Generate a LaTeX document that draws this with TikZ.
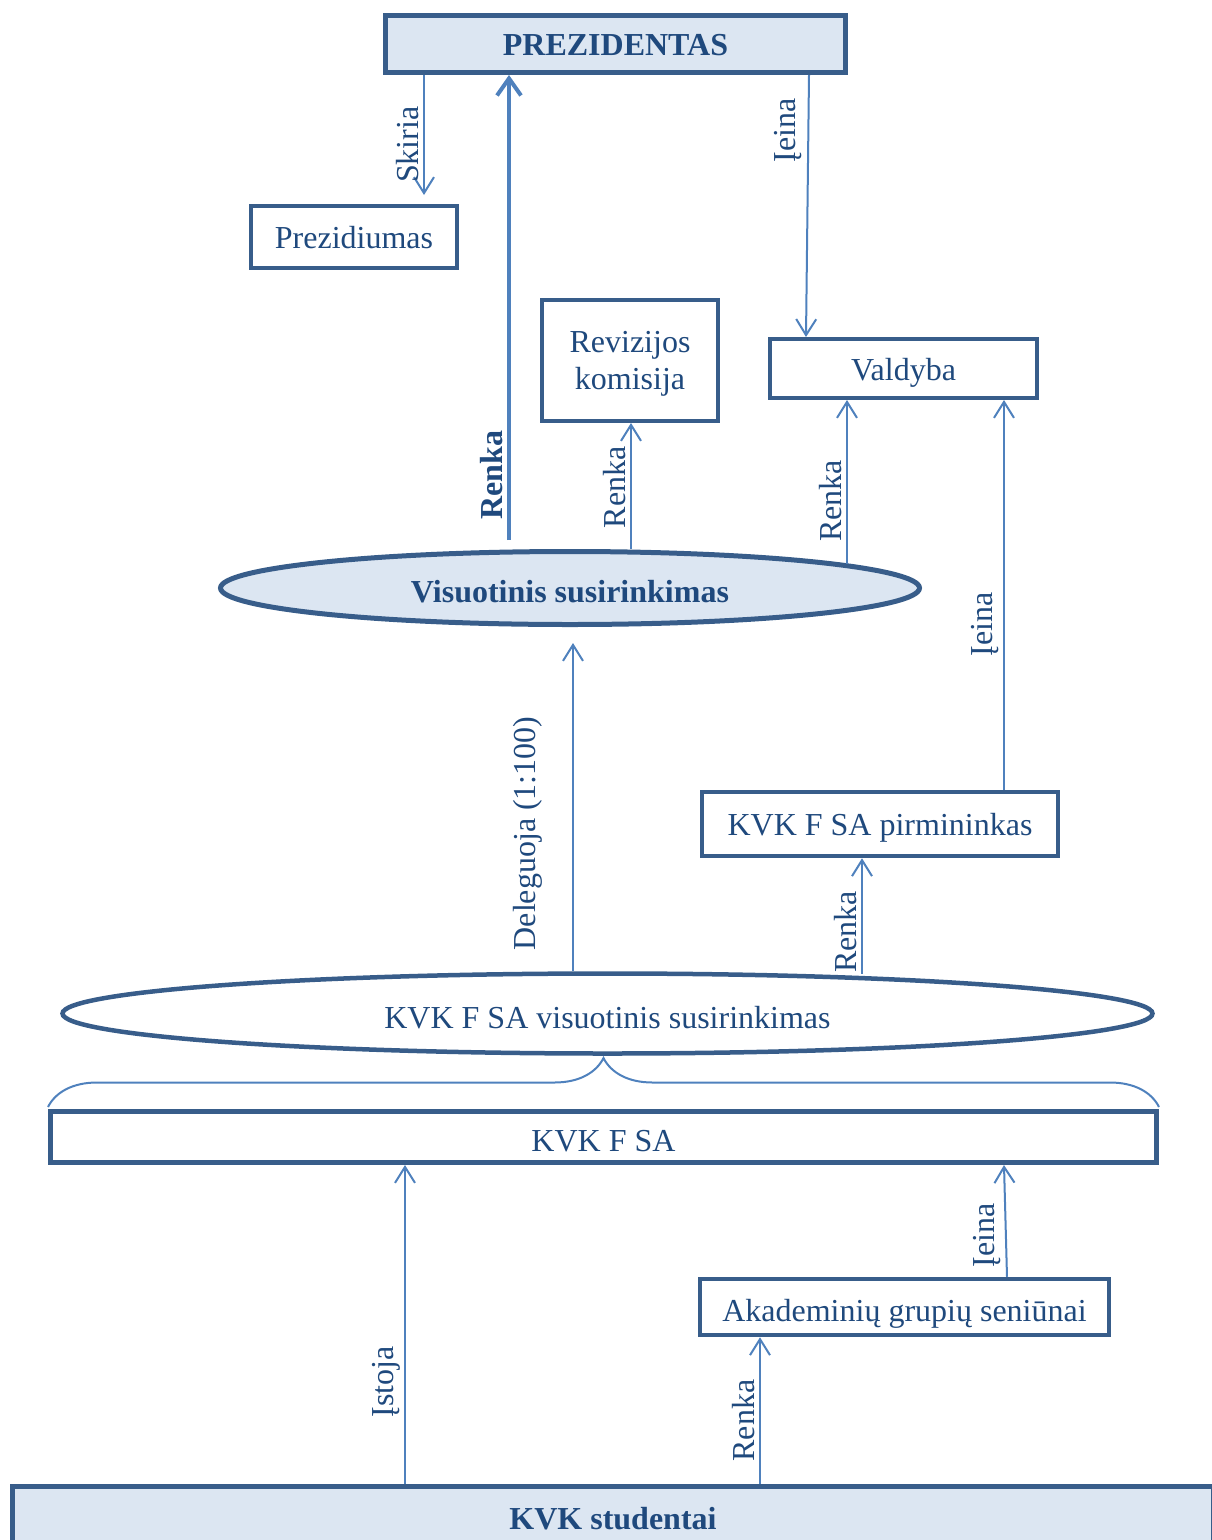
\documentclass[tikz,border=0pt]{standalone}
\usepackage{fontspec}
\setmainfont{Liberation Serif}
\usetikzlibrary{arrows.meta,shapes.geometric,decorations.pathreplacing,calc}
\definecolor{bord}{HTML}{385D8A}
\definecolor{fillc}{HTML}{DCE6F2}
\definecolor{arrc}{HTML}{4F81BD}
\definecolor{txtc}{HTML}{1F497D}
\newcommand{\dfont}{\fontsize{32}{37}\selectfont}
\begin{document}
\begin{tikzpicture}[x=1pt,y=-1pt,font=\dfont,
  box/.style={draw=bord,rectangle,inner sep=0pt,fill=white,text=txtc},
  one/.style={text height=23pt,text depth=0pt},
  low/.style={text height=29pt,text depth=0pt},
  ell/.style={draw=bord,ellipse,inner sep=0pt,text=txtc},
  arr/.style={draw=arrc,line width=2pt,-{Straight Barb[length=16pt,width=20pt]}},
  arrB/.style={draw=arrc,line width=4pt,-{Straight Barb[length=17pt,width=24pt]}},
  lbl/.style={rotate=90,anchor=south,inner sep=4pt,text=txtc},
  brc/.style={draw=arrc,line width=2pt,decorate,decoration={brace,amplitude=49pt}}]
\useasboundingbox (0,0) rectangle (1211,1540);
% nodes
\node[box,one,line width=5pt,fill=fillc,minimum width=460pt,minimum height=57pt,font=\dfont\bfseries] (pres) at (615.5,44) {PREZIDENTAS};
\node[box,one,line width=4pt,minimum width=206pt,minimum height=62pt] (prezid) at (354,237) {Prezidiumas};
\node[box,line width=4pt,minimum width=176pt,minimum height=121pt,align=center,text depth=0pt] (reviz) at (630,360.5) {Revizijos\\komisija};
\node[box,one,line width=4pt,minimum width=267pt,minimum height=59pt] (vald) at (903.5,368.5) {Valdyba};
\node[ell,low,line width=5pt,fill=fillc,minimum width=699pt,minimum height=73pt,font=\dfont\bfseries] (vis) at (570,588) {Visuotinis susirinkimas};
\node[box,one,line width=4.5pt,minimum width=356pt,minimum height=64pt] (pirm) at (880,824) {KVK F SA pirmininkas};
\node[ell,low,line width=4.5pt,fill=white,minimum width=1090pt,minimum height=80pt] (kvkvis) at (607.5,1013.5) {KVK F SA visuotinis susirinkimas};
\node[box,low,line width=5pt,minimum width=1106pt,minimum height=51pt] (kvkfsa) at (603.5,1137) {KVK F SA};
\node[box,low,line width=4.5pt,minimum width=409pt,minimum height=56pt] (akad) at (904.5,1307) {Akademinių grupių seniūnai};
\node[box,one,line width=5pt,fill=fillc,minimum width=1201pt,minimum height=64pt,font=\dfont\bfseries] (stud) at (613,1518) {KVK studentai};
% brace
\draw[brc] ($(kvkfsa.north west)+(0,-2)$) -- ($(kvkfsa.north east)+(0,-2)$);
% connectors
\draw[arr] (pres.south -| 424,0) -- ($(prezid.north -| 424,0)+(0,-9)$) node[lbl,pos=0.58] {Skiria};
\draw[arrB] ($(vis.north -| 509,0)+(0,-9)$) -- (pres.south -| 509,0) node[lbl,pos=0.14,font=\dfont\bfseries] {Renka};
\draw[arr] (vis.north -| 631,0) -- (reviz.south -| 631,0) node[lbl,pos=0.49] {Renka};
\draw[arr] ($(vis.center)+(277,-24)$) -- (vald.south -| 847,0) node[lbl,pos=0.385] {Renka};
\draw[arr] (pres.south -| 809,0) -- (vald.north -| 806,0) node[lbl,pos=0.21,inner sep=6pt] {Įeina};
\draw[arr] (pirm.north -| 1004,0) -- (vald.south -| 1004,0) node[lbl,pos=0.425] {Įeina};
\draw[arr] (kvkvis.north -| 573,0) -- ($(vis.south -| 573,0)+(0,16)$) node[lbl,pos=0.42,inner sep=30pt] {Deleguoja (1:100)};
\draw[arr] ($(kvkvis.center)+(254.5,-40)$) -- (pirm.south -| 862,0) node[lbl,pos=0.36] {Renka};
\draw[arr] (stud.north -| 405,0) -- (kvkfsa.south -| 405,0) node[lbl,pos=0.32] {Įstoja};
\draw[arr] (stud.north -| 760,0) -- (akad.south -| 760,0) node[lbl,pos=0.43] {Renka};
\draw[arr] (akad.north -| 1007,0) -- (kvkfsa.south -| 1004,0) node[lbl,pos=0.37] {Įeina};
\end{tikzpicture}
\end{document}
